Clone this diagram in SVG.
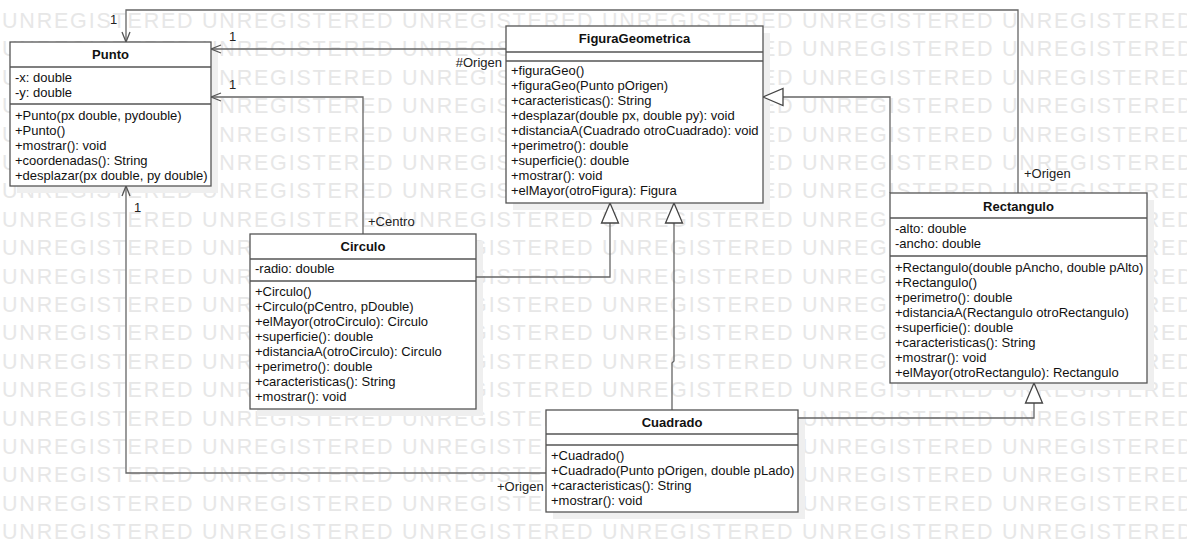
<svg xmlns="http://www.w3.org/2000/svg" width="1187" height="552" viewBox="0 0 1187 552">
<style>
.bg{fill:#fff}
.wm{font-family:"Liberation Sans",Arial,sans-serif;font-size:21.5px;fill:#e7e7e7;letter-spacing:1.8px}
.sh{fill:#efefef}
.box{fill:#fff;stroke:#555;stroke-width:1.3}
.sep{stroke:#555;stroke-width:1.3}
.t{font-family:"Liberation Sans",Arial,sans-serif;font-size:13px;fill:#111}
.ttl{font-weight:bold;text-anchor:middle}
.c{fill:none;stroke:#666;stroke-width:1.3}
.lbl{font-family:"Liberation Sans",Arial,sans-serif;font-size:13px;fill:#222}
</style>
<defs>
<marker id="open" viewBox="-11 -5 12 10" refX="0" refY="0" markerWidth="12" markerHeight="10" markerUnits="userSpaceOnUse" orient="auto">
<path d="M-10,-4 L0,0 L-10,4" fill="none" stroke="#555" stroke-width="1.3"/>
</marker>
<marker id="tri" viewBox="-22 -10 23 20" refX="0" refY="0" markerWidth="23" markerHeight="20" markerUnits="userSpaceOnUse" orient="auto">
<path d="M0,0 L-20,-8.5 L-20,8.5 Z" fill="#fff" stroke="#444" stroke-width="1.3"/>
</marker>
<text id="wmrow" class="wm"><tspan x="2">UNREGISTERED</tspan><tspan x="202">UNREGISTERED</tspan><tspan x="402">UNREGISTERED</tspan><tspan x="602">UNREGISTERED</tspan><tspan x="802">UNREGISTERED</tspan><tspan x="1002">UNREGISTERED</tspan></text>
</defs>
<rect class="bg" x="0" y="0" width="1187" height="552"/>
<g id="watermark">
<use href="#wmrow" y="28"/>
<use href="#wmrow" y="56.4"/>
<use href="#wmrow" y="84.8"/>
<use href="#wmrow" y="113.2"/>
<use href="#wmrow" y="141.6"/>
<use href="#wmrow" y="170"/>
<use href="#wmrow" y="198.3"/>
<use href="#wmrow" y="226.7"/>
<use href="#wmrow" y="255.1"/>
<use href="#wmrow" y="283.5"/>
<use href="#wmrow" y="311.9"/>
<use href="#wmrow" y="340.3"/>
<use href="#wmrow" y="368.7"/>
<use href="#wmrow" y="397.1"/>
<use href="#wmrow" y="425.5"/>
<use href="#wmrow" y="453.9"/>
<use href="#wmrow" y="482.2"/>
<use href="#wmrow" y="510.6"/>
<use href="#wmrow" y="539"/>
</g>
<g id="shadows">
<rect class="sh" x="17" y="49" width="201" height="144"/>
<rect class="sh" x="513" y="33" width="257" height="177"/>
<rect class="sh" x="257" y="241" width="226" height="175"/>
<rect class="sh" x="897" y="200" width="257" height="190"/>
<rect class="sh" x="553" y="417" width="252" height="102"/>
</g>
<g id="connectors">
<path class="c" d="M1018,193 V10 H126 V42" marker-end="url(#open)"/>
<path class="c" d="M506,49 H211" marker-end="url(#open)"/>
<path class="c" d="M363,234 V97 H211" marker-end="url(#open)"/>
<path class="c" d="M546,473 H126 V186" marker-end="url(#open)"/>
<path class="c" d="M476,277 H610 V203" marker-end="url(#tri)"/>
<path class="c" d="M672,410 V363 L674,361 V203" marker-end="url(#tri)"/>
<path class="c" d="M890,193 V97 H763" marker-end="url(#tri)"/>
<path class="c" d="M798,418 H1034 V383" marker-end="url(#tri)"/>
<text class="lbl" x="110" y="24">1</text>
<text class="lbl" x="229" y="41">1</text>
<text class="lbl" x="229" y="89">1</text>
<text class="lbl" x="134" y="212">1</text>
<text class="lbl" x="502" y="67" text-anchor="end">#Origen</text>
<text class="lbl" x="1024" y="178">+Origen</text>
<text class="lbl" x="368" y="226">+Centro</text>
<text class="lbl" x="497" y="491">+Origen</text>
</g>
<g id="Punto">
<rect class="box" x="10" y="42" width="201" height="144"/>
<line class="sep" x1="10" y1="67" x2="211" y2="67"/>
<line class="sep" x1="10" y1="104" x2="211" y2="104"/>
<text class="t ttl" x="110.5" y="59">Punto</text>
<text class="t" x="15" y="82">-x: double</text>
<text class="t" x="15" y="97">-y: double</text>
<text class="t" x="15" y="120">+Punto(px double, pydouble)</text>
<text class="t" x="15" y="135">+Punto()</text>
<text class="t" x="15" y="150">+mostrar(): void</text>
<text class="t" x="15" y="165">+coordenadas(): String</text>
<text class="t" x="15" y="180">+desplazar(px double, py double)</text>
</g>
<g id="FiguraGeometrica">
<rect class="box" x="506" y="26" width="257" height="177"/>
<line class="sep" x1="506" y1="52" x2="763" y2="52"/>
<line class="sep" x1="506" y1="61" x2="763" y2="61"/>
<text class="t ttl" x="634.5" y="43">FiguraGeometrica</text>
<text class="t" x="511" y="75">+figuraGeo()</text>
<text class="t" x="511" y="90">+figuraGeo(Punto pOrigen)</text>
<text class="t" x="511" y="105">+caracteristicas(): String</text>
<text class="t" x="511" y="120">+desplazar(double px, double py): void</text>
<text class="t" x="511" y="135">+distanciaA(Cuadrado otroCuadrado): void</text>
<text class="t" x="511" y="150">+perimetro(): double</text>
<text class="t" x="511" y="165">+superficie(): double</text>
<text class="t" x="511" y="180">+mostrar(): void</text>
<text class="t" x="511" y="195">+elMayor(otroFigura): Figura</text>
</g>
<g id="Circulo">
<rect class="box" x="250" y="234" width="226" height="175"/>
<line class="sep" x1="250" y1="259" x2="476" y2="259"/>
<line class="sep" x1="250" y1="281" x2="476" y2="281"/>
<text class="t ttl" x="363" y="251">Circulo</text>
<text class="t" x="255" y="273">-radio: double</text>
<text class="t" x="255" y="296">+Circulo()</text>
<text class="t" x="255" y="311">+Circulo(pCentro, pDouble)</text>
<text class="t" x="255" y="326">+elMayor(otroCirculo): Circulo</text>
<text class="t" x="255" y="341">+superficie(): double</text>
<text class="t" x="255" y="356">+distanciaA(otroCirculo): Circulo</text>
<text class="t" x="255" y="371">+perimetro(): double</text>
<text class="t" x="255" y="386">+caracteristicas(): String</text>
<text class="t" x="255" y="401">+mostrar(): void</text>
</g>
<g id="Rectangulo">
<rect class="box" x="890" y="193" width="257" height="190"/>
<line class="sep" x1="890" y1="218" x2="1147" y2="218"/>
<line class="sep" x1="890" y1="256" x2="1147" y2="256"/>
<text class="t ttl" x="1018.5" y="211">Rectangulo</text>
<text class="t" x="895" y="233">-alto: double</text>
<text class="t" x="895" y="248">-ancho: double</text>
<text class="t" x="895" y="272">+Rectangulo(double pAncho, double pAlto)</text>
<text class="t" x="895" y="287">+Rectangulo()</text>
<text class="t" x="895" y="302">+perimetro(): double</text>
<text class="t" x="895" y="317">+distanciaA(Rectangulo otroRectangulo)</text>
<text class="t" x="895" y="332">+superficie(): double</text>
<text class="t" x="895" y="347">+caracteristicas(): String</text>
<text class="t" x="895" y="362">+mostrar(): void</text>
<text class="t" x="895" y="377">+elMayor(otroRectangulo): Rectangulo</text>
</g>
<g id="Cuadrado">
<rect class="box" x="546" y="410" width="252" height="102"/>
<line class="sep" x1="546" y1="434" x2="798" y2="434"/>
<line class="sep" x1="546" y1="445" x2="798" y2="445"/>
<text class="t ttl" x="672" y="427">Cuadrado</text>
<text class="t" x="551" y="460">+Cuadrado()</text>
<text class="t" x="551" y="475">+Cuadrado(Punto pOrigen, double pLado)</text>
<text class="t" x="551" y="490">+caracteristicas(): String</text>
<text class="t" x="551" y="505">+mostrar(): void</text>
</g>
</svg>
